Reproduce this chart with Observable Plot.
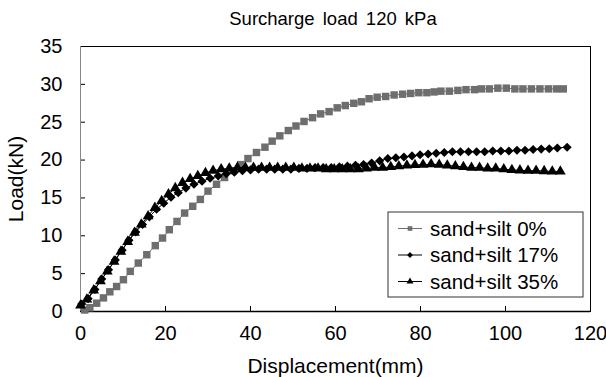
<!DOCTYPE html>
<html><head><meta charset="utf-8">
<script src="https://cdn.jsdelivr.net/npm/d3@7"></script>
<script src="https://cdn.jsdelivr.net/npm/@observablehq/plot@0.6"></script>
<style>
body{margin:0;background:#fff;font-family:"Liberation Sans",Arial,sans-serif;}
#title{box-sizing:border-box;width:606px;height:34px;padding-left:60px;line-height:38px;text-align:center;font-size:18.5px;word-spacing:3px;color:#000;}
#chart{position:relative;}
</style></head><body>
<div id="title">Surcharge load 120 kPa</div>
<div id="chart"></div>
<script>
const titleText = "Surcharge load 120 kPa";
const xLabel = "Displacement(mm)";
const yLabel = "Load(kN)";
const xTicks = [0, 20, 40, 60, 80, 100, 120];
const yTicks = [0, 5, 10, 15, 20, 25, 30, 35];
const seriesNames = ["sand+silt 0%", "sand+silt 17%", "sand+silt 35%"];

// sand+silt 0% (grey squares)
const silt0 = [[1.0,0.2],[2.2,0.5],[3.8,1.1],[5.4,1.8],[6.9,2.6],[8.5,3.3],[10.1,4.2],[11.7,5.3],[13.6,6.4],[15.6,7.5],[17.6,8.7],[19.3,9.7],[20.9,10.8],[22.7,11.9],[24.5,13.0],[26.4,13.9],[28.2,14.8],[30.0,15.9],[32.0,16.8],[33.9,17.7],[35.9,18.6],[37.7,19.4],[39.4,20.2],[41.4,21.0],[43.4,21.7],[45.1,22.5],[46.9,23.2],[48.9,23.9],[50.7,24.5],[52.6,25.1],[54.6,25.6],[56.5,26.1],[58.5,26.4],[60.4,26.9],[62.3,27.2],[64.3,27.5],[66.1,27.7],[67.9,28.1],[69.8,28.3],[71.8,28.4],[73.8,28.6],[75.8,28.7],[77.7,28.8],[79.6,28.9],[81.5,28.9],[83.2,29.0],[84.8,29.1],[86.8,29.1],[88.8,29.2],[90.7,29.3],[92.7,29.3],[94.3,29.4],[96.2,29.4],[98.2,29.5],[100.2,29.5],[102.2,29.4],[104.1,29.4],[106.1,29.4],[108.1,29.4],[110.1,29.4],[112.0,29.4],[113.6,29.4]];

// sand+silt 17% (black diamonds)
const silt17 = [[0.3,1.0],[1.8,1.7],[3.4,2.9],[5.0,4.3],[6.6,5.5],[8.2,6.8],[9.8,8.1],[11.4,9.4],[13.0,10.5],[14.6,11.5],[16.2,12.5],[17.9,13.5],[19.6,14.3],[21.3,15.1],[23.0,15.7],[24.8,16.3],[26.7,16.8],[28.6,17.2],[30.5,17.6],[32.4,17.9],[34.3,18.2],[36.2,18.4],[38.1,18.6],[40.0,18.7],[41.9,18.8],[43.8,18.8],[45.7,18.8],[47.6,18.8],[49.5,18.8],[51.4,18.9],[53.3,18.9],[55.2,19.0],[57.1,19.0],[59.0,19.0],[60.9,19.1],[62.8,19.2],[64.7,19.3],[66.6,19.4],[68.5,19.6],[70.4,19.9],[72.3,20.2],[74.2,20.3],[76.1,20.4],[78.0,20.55],[79.9,20.7],[81.8,20.8],[83.7,20.9],[85.6,21.0],[87.5,21.1],[89.4,21.1],[91.3,21.1],[93.2,21.1],[95.1,21.1],[97.0,21.2],[98.9,21.2],[100.8,21.2],[102.7,21.3],[104.6,21.3],[106.5,21.4],[108.4,21.45],[110.3,21.5],[112.2,21.6],[114.5,21.7]];

// sand+silt 35% (black triangles)
const silt35 = [[0.0,0.8],[1.5,1.6],[3.1,2.8],[4.7,4.0],[6.3,5.3],[7.9,6.6],[9.5,7.9],[11.1,9.2],[12.7,10.4],[14.3,11.5],[15.9,12.6],[17.5,13.7],[19.1,14.6],[20.7,15.5],[22.3,16.3],[24.0,17.0],[25.8,17.5],[27.6,17.9],[29.4,18.3],[31.2,18.6],[33.1,18.8],[35.0,18.9],[36.9,19.0],[38.8,19.0],[40.7,19.0],[42.6,19.0],[44.5,19.0],[46.4,19.0],[48.3,19.0],[50.2,19.0],[52.1,18.9],[54.0,18.9],[55.9,18.9],[57.8,18.8],[59.7,18.8],[61.6,18.8],[63.5,18.8],[65.4,18.8],[67.3,18.9],[69.2,19.0],[71.1,19.0],[73.0,19.1],[74.9,19.2],[76.8,19.3],[78.7,19.35],[80.6,19.4],[82.5,19.45],[84.4,19.4],[86.3,19.3],[88.2,19.2],[90.1,19.1],[92.0,19.0],[93.9,19.0],[95.8,18.9],[97.7,18.9],[99.6,18.8],[101.5,18.7],[103.4,18.65],[105.3,18.6],[107.2,18.6],[109.1,18.55],[111.0,18.5],[112.9,18.5]];

const seriesData = [silt0, silt17, silt35];
const seriesColors = ["#6e6e6e", "#000000", "#000000"];
const seriesSymbols = ["square", "diamond2", "triangle"];
const seriesR = [4.2, 4.1, 4.0];

document.getElementById("title").textContent = titleText;

const W = 606, H = 343, mL = 80, mR = 16, mT = 12, mB = 66;
const plotW = W - mL - mR, plotH = H - mT - mB;
const font = "Liberation Sans, Arial, sans-serif";

const seriesMarks = seriesData.flatMap((pts, i) => [
  Plot.line(pts, {x: d => d[0], y: d => d[1], stroke: seriesColors[i], strokeWidth: 1}),
  Plot.dot(pts, {x: d => d[0], y: d => d[1], symbol: seriesSymbols[i], fill: seriesColors[i], stroke: "none", r: seriesR[i]})
]);

const chart = Plot.plot({
  width: W, height: H,
  marginLeft: mL, marginRight: mR, marginTop: mT, marginBottom: mB,
  style: {fontFamily: font, fontSize: "20px", color: "#000", background: "#fff"},
  x: {domain: [0, 120]},
  y: {domain: [0, 35]},
  marks: [
    Plot.axisX({ticks: xTicks, tickSize: 0, tickPadding: 14, label: null, fontSize: 20}),
    Plot.axisY({ticks: yTicks, tickSize: 0, tickPadding: 18, label: null, fontSize: 20}),
    Plot.tickX(xTicks, {x: d => d, insetTop: plotH - 5, stroke: "#000"}),
    Plot.tickY(yTicks, {y: d => d, insetRight: plotW - 5, stroke: "#000"}),
    Plot.frame({stroke: "#000"}),
    Plot.ruleX([0], {stroke: "#888"}),
    Plot.ruleY([0], {stroke: "#000", strokeWidth: 1.5}),
    ...seriesMarks,
    Plot.text([xLabel], {text: d => d, frameAnchor: "bottom", dy: 55, fontSize: 21, lineAnchor: "middle", textAnchor: "middle"}),
    Plot.text([yLabel], {text: d => d, frameAnchor: "left", dx: -64, rotate: -90, fontSize: 21, lineAnchor: "middle", textAnchor: "middle"})
  ]
});

// legend inside the plot area
const svg = d3.select(chart);
const lg = svg.append("g").attr("font-family", font).attr("font-size", 20.5).attr("text-anchor", "start");
const bx = 388, by = 178, bw = 195, bh = 85;
lg.append("rect").attr("x", bx).attr("y", by).attr("width", bw).attr("height", bh)
  .attr("fill", "#fff").attr("stroke", "#333").attr("stroke-width", 1);
const symMap = {square: d3.symbolSquare, diamond2: d3.symbolDiamond2, triangle: d3.symbolTriangle};
seriesNames.forEach((name, i) => {
  const cy = by + 16.5 + i * 26.5;
  lg.append("line").attr("x1", bx + 10).attr("x2", bx + 34).attr("y1", cy).attr("y2", cy)
    .attr("stroke", seriesColors[i]).attr("stroke-width", 1);
  lg.append("path").attr("transform", `translate(${bx + 22},${cy})`)
    .attr("d", d3.symbol(symMap[seriesSymbols[i]], Math.PI * 2.6 * 2.6)())
    .attr("fill", seriesColors[i]);
  lg.append("text").attr("x", bx + 42).attr("y", cy).attr("dy", "0.35em")
    .attr("text-anchor", "start").attr("fill", "#000").text(name);
});

document.getElementById("chart").appendChild(chart);
</script>
</body></html>
